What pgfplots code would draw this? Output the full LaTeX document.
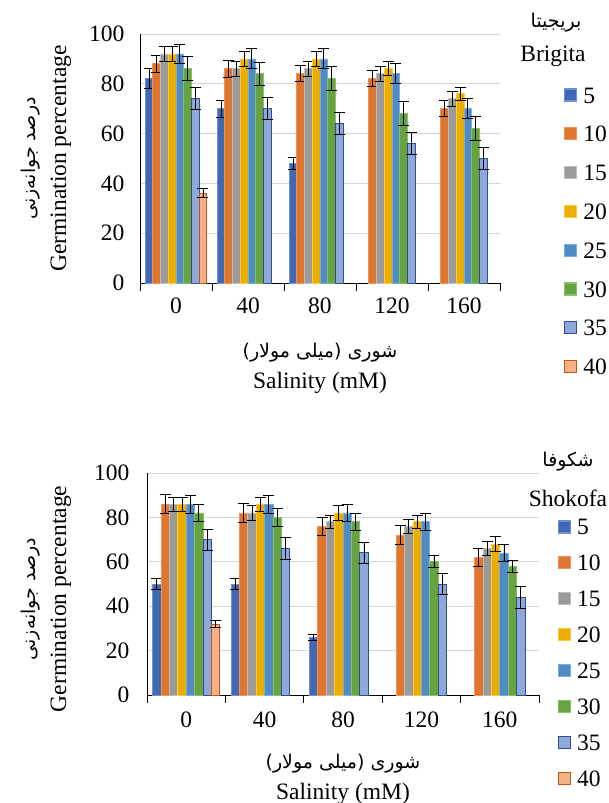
\documentclass[border=0pt]{standalone}
\usepackage{fontspec}
\setmainfont{Liberation Serif}
\newfontfamily\arabicfont[Script=Arabic]{DejaVu Sans}
\TeXXeTstate=1
\usepackage{pgfplots}
\pgfplotsset{compat=1.18}
\newcommand\bigf{\fontsize{23.5}{28}\selectfont}
\newcommand\faf{\fontsize{19}{24}\selectfont}

\definecolor{cA}{HTML}{3F68B6}\definecolor{cAe}{HTML}{6E90D2}
\definecolor{cB}{HTML}{E0752E}\definecolor{cBe}{HTML}{F2935A}
\definecolor{cC}{HTML}{9A9A9A}\definecolor{cCe}{HTML}{BDBDBD}
\definecolor{cD}{HTML}{EBAE00}\definecolor{cDe}{HTML}{FFC93A}
\definecolor{cE}{HTML}{4F8CC6}\definecolor{cEe}{HTML}{7AAEDD}
\definecolor{cF}{HTML}{67A341}\definecolor{cFe}{HTML}{8CC066}
\definecolor{cG}{HTML}{8FA8DC}\definecolor{cGe}{HTML}{2F4F8F}
\definecolor{cH}{HTML}{F4B183}\definecolor{cHe}{HTML}{C0561A}

\pgfplotsset{
  mybars/.style={
    ybar=0pt, bar width=0.107,
    scale only axis,
    xmin=-0.5, xmax=4.5, ymin=0, ymax=100,
    xtick={0,1,2,3,4}, xticklabels={0,40,80,120,160},
    minor xtick={-0.5,0.5,1.5,2.5,3.5,4.5},
    ytick={0,20,40,60,80,100},
    axis x line*=bottom, axis y line*=left,
    axis line style={black, line width=0.9pt},
    tick align=outside,
    major tick length=0pt, minor tick length=8pt,
    minor x tick style={black, line width=0.9pt},
    ymajorgrids, grid style={black!16, line width=1pt},
    /pgf/number format/assume math mode=true,
    tick label style={font=\bigf},
    clip=false,
    error bars/y dir=both, error bars/y explicit,
    error bars/error mark=-,
    error bars/error mark options={black, line width=0.9pt, mark size=5.5pt, rotate=90},
    error bars/error bar style={black, line width=0.9pt},
    legend image code/.code={\draw[##1, line width=1.2pt] (0pt,-6pt) rectangle (12pt,6pt);},
    legend style={draw=none, fill=none, inner sep=0pt, outer sep=0pt,
      column sep=6pt, font=\bigf,
      nodes={inner sep=0pt, text height=16pt, text depth=0pt}},
    legend cell align=left,
  },
  sA/.style={fill=cA, draw=cAe, line width=0.8pt},
  sB/.style={fill=cB, draw=cBe, line width=0.8pt},
  sC/.style={fill=cC, draw=cCe, line width=0.8pt},
  sD/.style={fill=cD, draw=cDe, line width=0.8pt},
  sE/.style={fill=cE, draw=cEe, line width=0.8pt},
  sF/.style={fill=cF, draw=cFe, line width=0.8pt},
  sG/.style={fill=cG, draw=cGe, line width=0.9pt},
  sH/.style={fill=cH, draw=cHe, line width=0.9pt},
}

\begin{document}
\begin{tikzpicture}[font=\bigf]
\path[use as bounding box] (0pt,0pt) rectangle (608pt,-803pt);

% ---------------- Brigita ----------------
\begin{axis}[mybars,
  at={(140pt,-283pt)}, anchor=south west,
  width=360pt, height=249pt,
  yticklabel style={xshift=-12pt},
  xticklabel style={yshift=-11pt},
  every axis y label/.style={at={(axis description cs:0,0.5)}, xshift=-94pt, rotate=90, anchor=center, align=center},
  ylabel={{\arabicfont\faf\beginR درصد جوانه‌زنی\endR}\\[3pt]Germination percentage},
  every axis x label/.style={at={(axis description cs:0.5,0)}, anchor=center, yshift=-85pt, align=center},
  xlabel={{\arabicfont\faf\beginR شوری (میلی مولار)\endR}\\[3pt]Salinity (mM)},
  legend style={at={(axis description cs:1.178,0.787)}, anchor=north west, row sep=22.8pt},
]
\addplot[sA] coordinates {(0,82) +- (0,4) (1,70) +- (0,3.5) (2,48) +- (0,2.5)};
\addplot[sB] coordinates {(0,88) +- (0,3.3) (1,86) +- (0,3.3) (2,84) +- (0,3.2) (3,82) +- (0,3.2) (4,70) +- (0,3.2)};
\addplot[sC] coordinates {(0,92) +- (0,3) (1,86) +- (0,3) (2,86) +- (0,3) (3,84) +- (0,3) (4,74) +- (0,2.9)};
\addplot[sD] coordinates {(0,92) +- (0,3) (1,90) +- (0,3) (2,90) +- (0,3) (3,86) +- (0,2.8) (4,76) +- (0,2.7)};
\addplot[sE] coordinates {(0,92) +- (0,4) (1,90) +- (0,4) (2,90) +- (0,4) (3,84) +- (0,4) (4,70) +- (0,4)};
\addplot[sF] coordinates {(0,86) +- (0,4.8) (1,84) +- (0,4.7) (2,82) +- (0,4.8) (3,68) +- (0,4.9) (4,62) +- (0,4.9)};
\addplot[sG] coordinates {(0,74) +- (0,4.5) (1,70) +- (0,4.5) (2,64) +- (0,4.5) (3,56) +- (0,4.5) (4,50) +- (0,4.5)};
\addplot[sH] coordinates {(0,36) +- (0,1.8)};
\legend{5,10,15,20,25,30,35,40}
\end{axis}
\node[font=\arabicfont\faf] at (556pt,-23pt) {\beginR بریجیتا\endR};
\node at (553pt,-56pt) {Brigita};

% ---------------- Shokofa ----------------
\begin{axis}[mybars,
  at={(147pt,-695pt)}, anchor=south west,
  width=392pt, height=222pt,
  yticklabel style={xshift=-14pt},
  xticklabel style={yshift=-13pt},
  every axis y label/.style={at={(axis description cs:0,0.5)}, xshift=-101pt, yshift=-15pt, rotate=90, anchor=center, align=center},
  ylabel={{\arabicfont\faf\beginR درصد جوانه‌زنی\endR}\\[3pt]Germination percentage},
  every axis x label/.style={at={(axis description cs:0.5,0)}, anchor=center, yshift=-84pt, align=center},
  xlabel={{\arabicfont\faf\beginR شوری (میلی مولار)\endR}\\[3pt]Salinity (mM)},
  legend style={at={(axis description cs:1.048,0.793)}, anchor=north west, row sep=19.9pt},
]
\addplot[sA] coordinates {(0,50) +- (0,2.6) (1,50) +- (0,2.6) (2,26) +- (0,1.4)};
\addplot[sB] coordinates {(0,86) +- (0,4.2) (1,82) +- (0,4.3) (2,76) +- (0,4.1) (3,72) +- (0,4.2) (4,62) +- (0,4)};
\addplot[sC] coordinates {(0,86) +- (0,3.2) (1,82) +- (0,3.2) (2,78) +- (0,3) (3,76) +- (0,3.2) (4,66) +- (0,3.2)};
\addplot[sD] coordinates {(0,86) +- (0,3.2) (1,86) +- (0,3.2) (2,82) +- (0,3.2) (3,78) +- (0,3) (4,68) +- (0,3.2)};
\addplot[sE] coordinates {(0,86) +- (0,4) (1,86) +- (0,4) (2,82) +- (0,4) (3,78) +- (0,4) (4,64) +- (0,3.8)};
\addplot[sF] coordinates {(0,82) +- (0,4) (1,80) +- (0,4) (2,78) +- (0,4) (3,60) +- (0,2.7) (4,58) +- (0,2.8)};
\addplot[sG] coordinates {(0,70) +- (0,4.8) (1,66) +- (0,4.9) (2,64) +- (0,4.9) (3,50) +- (0,4.9) (4,44) +- (0,5)};
\addplot[sH] coordinates {(0,32) +- (0,1.5)};
\legend{5,10,15,20,25,30,35,40}
\end{axis}
\node[font=\arabicfont\faf] at (568pt,-462pt) {\beginR شکوفا\endR};
\node at (568pt,-498pt) {Shokofa};
\end{tikzpicture}
\end{document}
